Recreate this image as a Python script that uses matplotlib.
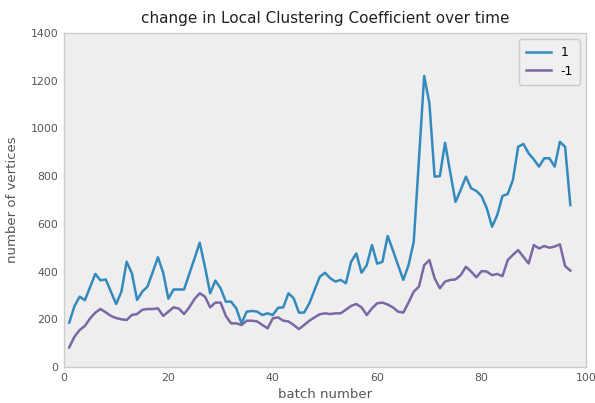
import numpy as np
import matplotlib
matplotlib.use("Agg")
import matplotlib.pyplot as plt

batches = list(range(1, 98))

series_pos = [
    186, 255, 295, 280, 335, 390, 363, 367, 315, 264,
    316, 441, 393, 281, 316, 337, 398, 460, 395, 286,
    325, 325, 325, 390, 455, 521, 420, 309, 362, 330,
    274, 274, 246, 183, 232, 235, 232, 218, 225, 218,
    248, 250, 309, 288, 228, 228, 267, 323, 378, 395,
    372, 358, 365, 351, 441, 476, 395, 427, 511, 433,
    441, 549, 490, 427, 365, 427, 525, 870, 1220, 1105,
    798, 800, 940, 815, 692, 742, 798, 749, 738, 716,
    665, 588, 637, 717, 725, 784, 923, 935, 896, 870,
    840, 875, 875, 840, 944, 923, 679,
]

series_neg = [
    82, 127, 155, 172, 204, 228, 243, 229, 214, 205,
    200, 197, 218, 222, 240, 243, 243, 246, 214, 232,
    250, 245, 222, 250, 285, 309, 295, 250, 270, 270,
    214, 183, 183, 176, 194, 194, 191, 176, 162, 204,
    208, 194, 191, 176, 159, 176, 194, 208, 221, 225,
    222, 225, 225, 240, 256, 264, 250, 218, 246, 267,
    270, 262, 250, 232, 228, 270, 316, 337, 427, 448,
    372, 330, 358, 365, 367, 385, 420, 400, 376, 402,
    400, 385, 390, 381, 448, 470, 490, 462, 434, 511,
    497, 507, 500, 505, 514, 423, 404,
]

labels = ["1", "-1"]
colors = ["#348ABD", "#7A68A6"]

fig = plt.figure(figsize=(5.95, 4.03), dpi=100)
ax = fig.add_axes([64 / 595, 1 - 367 / 403, (586 - 64) / 595, (367 - 33) / 403])
ax.set_facecolor("#eeeeee")

ax.plot(batches, series_pos, color=colors[0], lw=1.8, label=labels[0])
ax.plot(batches, series_neg, color=colors[1], lw=1.8, label=labels[1])

ax.set_xlim(0, 100)
ax.set_ylim(0, 1400)
ax.set_xticks(np.arange(0, 101, 20))
ax.set_yticks(np.arange(0, 1401, 200))
ax.tick_params(length=0, labelsize=7.8, labelcolor="#555555", pad=4)

for s in ax.spines.values():
    s.set_color("#cccccc")
    s.set_linewidth(1.0)

ax.set_title("change in Local Clustering Coefficient over time",
             fontsize=11, color="#222222", pad=7)
ax.set_xlabel("batch number", fontsize=9.5, color="#555555", labelpad=4)
ax.set_ylabel("number of vertices", fontsize=9.5, color="#555555", labelpad=8)

leg = ax.legend(loc="upper right", fontsize=9, frameon=True, handlelength=2.0,
                borderpad=0.55, labelspacing=0.45)
leg.get_frame().set_facecolor("#f0f0f0")
leg.get_frame().set_edgecolor("#cccccc")
leg.get_frame().set_alpha(1)

fig.savefig("out.png", dpi=100)
